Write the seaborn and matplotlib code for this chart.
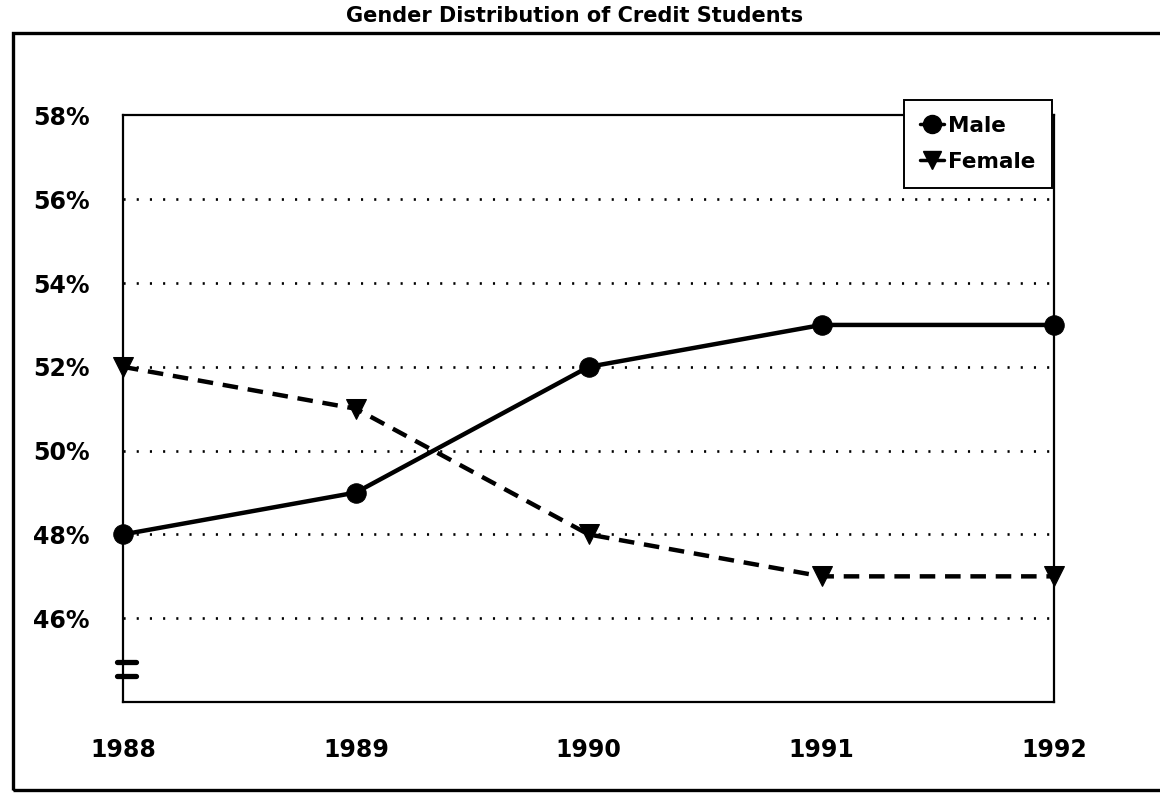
"""
Gender distribution of credit students, 1988-1992.
Recreates an old scanned line chart with seaborn.
"""

import matplotlib.pyplot as plt
import matplotlib.patches as mpatches
import seaborn as sns
import pandas as pd

years = [1988, 1989, 1990, 1991, 1992]
male_pct = [48, 49, 52, 53, 53]
female_pct = [52, 51, 48, 47, 47]
y_ticks = [46, 48, 50, 52, 54, 56, 58]
title = "Gender Distribution of Credit Students"


def build_frame() -> pd.DataFrame:
    male = pd.DataFrame({"year": years, "pct": male_pct, "gender": "Male"})
    female = pd.DataFrame({"year": years, "pct": female_pct, "gender": "Female"})
    return pd.concat([male, female], ignore_index=True)


def plot_chart(df: pd.DataFrame) -> None:
    sns.set_style("white")
    plt.rcParams["font.family"] = ["DejaVu Sans"]
    plt.rcParams["font.weight"] = "bold"
    plt.rcParams["text.color"] = "black"
    plt.rcParams["xtick.color"] = "black"
    plt.rcParams["ytick.color"] = "black"

    fig = plt.figure(figsize=(11.6, 7.96), dpi=100)
    ax = fig.add_axes([0.106, 0.118, 0.803, 0.737])

    sns.lineplot(
        data=df, x="year", y="pct", style="gender",
        markers={"Male": "o", "Female": "v"},
        dashes={"Male": "", "Female": (3.5, 2.2)},
        color="black", linewidth=3.2, markersize=14,
        markeredgecolor="black", ax=ax, legend=False, clip_on=False,
    )

    ax.set_xlim(1988, 1992)
    ax.set_ylim(44, 58)
    ax.set_xticks(years)
    ax.set_xticklabels([str(y) for y in years], fontsize=17, fontweight="bold")
    ax.set_yticks(y_ticks)
    ax.set_yticklabels([f"{v}%" for v in y_ticks], fontsize=17, fontweight="bold")
    ax.tick_params(axis="x", direction="in", length=14, width=1.2, pad=26)
    ax.tick_params(axis="y", length=0, pad=24)
    ax.set_xlabel("")
    ax.set_ylabel("")

    # dotted horizontal gridlines (no line on the top spine)
    for v in y_ticks[:-1]:
        ax.axhline(v, color="black", linestyle=(0, (0.8, 4.2)), linewidth=1.9, zorder=0)

    for spine in ax.spines.values():
        spine.set_color("black")
        spine.set_linewidth(1.6)

    # axis break mark on the y axis
    brk = ax.get_yaxis_transform()
    for yb in (44.95, 44.62):
        ax.plot([-0.006, 0.014], [yb, yb], color="black", linewidth=3.8,
                transform=brk, clip_on=False)

    # legend box in the upper right
    handles = [
        plt.Line2D([], [], color="black", marker="o", markersize=13, linewidth=2.5),
        plt.Line2D([], [], color="black", marker="v", markersize=13, linewidth=2.5),
    ]
    leg = ax.legend(handles, ["Male", "Female"], loc="upper right",
                    bbox_to_anchor=(0.997, 1.027), handlelength=1.1, handletextpad=0.2,
                    frameon=True, fancybox=False, framealpha=1.0, borderpad=0.75,
                    labelspacing=0.75, borderaxespad=0.0,
                    prop={"weight": "bold", "size": 15.5})
    leg.get_frame().set_edgecolor("black")
    leg.get_frame().set_linewidth(1.4)

    # outer frame around the whole chart
    frame = mpatches.Rectangle((0.011, 0.008), 1.0, 0.95, transform=fig.transFigure,
                               fill=False, edgecolor="black", linewidth=2.4, clip_on=False)
    fig.add_artist(frame)

    fig.text(0.495, 0.98, title, ha="center", va="center", fontsize=15, fontweight="bold")

    fig.savefig("out.png", dpi=100, facecolor="white")


if __name__ == "__main__":
    plot_chart(build_frame())
